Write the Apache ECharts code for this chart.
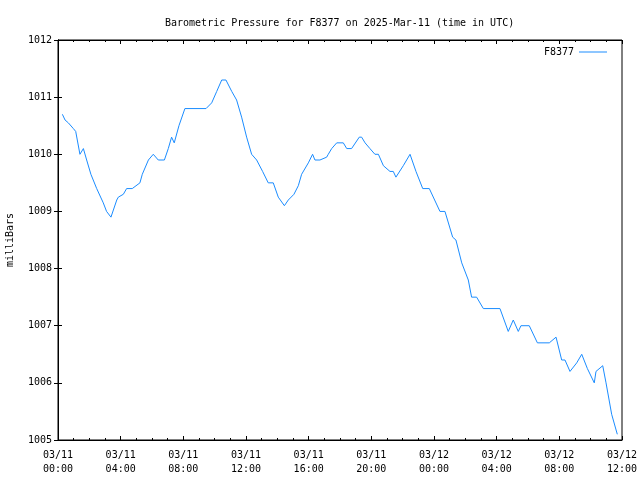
<!DOCTYPE html>
<html><head><meta charset="utf-8">
<script src="https://cdn.jsdelivr.net/npm/echarts@6/dist/echarts.min.js"></script>
<style>html,body{margin:0;padding:0;background:#fff}#c{width:640px;height:480px}</style>
</head><body><div id="c"></div>
<script>
// hours since 03/11 00:00 UTC
const hours = [0.28,0.45,0.66,0.98,1.13,1.4,1.62,1.83,2.1,2.47,2.89,3.1,3.38,3.75,3.85,4.17,4.38,4.74,5.23,5.38,5.77,6.08,6.4,6.79,7.04,7.25,7.42,7.72,8.1,9.45,9.81,10.13,10.45,10.72,11.09,11.4,11.72,12.04,12.36,12.68,13.06,13.42,13.74,14.06,14.45,14.7,15.06,15.34,15.55,15.98,16.25,16.4,16.72,17.15,17.25,17.47,17.79,18.21,18.43,18.74,19.23,19.38,19.6,19.91,20.23,20.45,20.77,21.19,21.4,21.57,22.04,22.47,22.56,22.85,23.28,23.7,24.38,24.7,25.19,25.4,25.77,26.19,26.4,26.72,27.15,28.21,28.74,29.06,29.38,29.55,30.08,30.6,31.36,31.79,32.15,32.36,32.68,33.11,33.43,33.79,34.23,34.34,34.77,34.98,35.34,35.7];
const pressure = [1010.7,1010.6,1010.55,1010.45,1010.4,1010.0,1010.1,1009.9,1009.65,1009.4,1009.15,1009.0,1008.9,1009.2,1009.25,1009.3,1009.4,1009.4,1009.5,1009.65,1009.9,1010.0,1009.9,1009.9,1010.1,1010.3,1010.2,1010.5,1010.8,1010.8,1010.9,1011.1,1011.3,1011.3,1011.1,1010.95,1010.65,1010.3,1010.0,1009.9,1009.7,1009.5,1009.5,1009.25,1009.1,1009.2,1009.3,1009.45,1009.65,1009.85,1010.0,1009.9,1009.9,1009.95,1010.0,1010.1,1010.2,1010.2,1010.1,1010.1,1010.3,1010.3,1010.2,1010.1,1010.0,1010.0,1009.8,1009.7,1009.7,1009.6,1009.8,1010.0,1010.0,1009.7,1009.4,1009.4,1009.0,1009.0,1008.55,1008.5,1008.1,1007.8,1007.5,1007.5,1007.3,1007.3,1006.9,1007.1,1006.9,1007.0,1007.0,1006.7,1006.7,1006.8,1006.4,1006.4,1006.2,1006.35,1006.5,1006.25,1006.0,1006.2,1006.3,1006.0,1005.45,1005.1];
const xTickLabels = ['03/11\n00:00','03/11\n04:00','03/11\n08:00','03/11\n12:00','03/11\n16:00','03/11\n20:00','03/12\n00:00','03/12\n04:00','03/12\n08:00','03/12\n12:00'];
const seriesName = 'F8377';

const font = 'DejaVu Sans Mono';
const chart = echarts.init(document.getElementById('c'), null, {renderer:'canvas'});
const data = hours.map((h,i)=>[h,pressure[i]]);
const axisBase = {
  axisLine:{show:true,lineStyle:{color:'#000',width:1}},
  splitLine:{show:false}
};
const majorTick = {show:true,inside:true,length:4,lineStyle:{color:'#000'}};
const minorTick = {show:true,splitNumber:4,length:2,lineStyle:{color:'#000'}};
chart.setOption({
  animation:false,
  backgroundColor:'#fff',
  title:{text:'Barometric Pressure for F8377 on 2025-Mar-11 (time in UTC)',left:160,top:13,
    textStyle:{fontFamily:font,fontSize:10,fontWeight:'normal',color:'#000'}},
  legend:{right:28,top:42,itemWidth:28,itemHeight:1,itemGap:8,align:'right',icon:'rect',
    textStyle:{fontFamily:font,fontSize:10,color:'#000'},
    data:[{name:seriesName,icon:'rect'}]},
  grid:{left:58,right:18,top:40,bottom:40,show:true,borderColor:'#000',borderWidth:1,
    containLabel:false,outerBoundsMode:'none'},
  xAxis:[
    Object.assign({type:'value',min:0,max:36,interval:4,position:'bottom',
      axisTick:majorTick,minorTick:minorTick,
      axisLabel:{fontFamily:font,fontSize:10,color:'#000',margin:8,lineHeight:14,
        formatter:v=>xTickLabels[Math.round(v/4)]||''}},axisBase),
    Object.assign({type:'value',min:0,max:36,interval:4,position:'top',
      axisTick:majorTick,minorTick:minorTick,
      axisLabel:{show:false}},axisBase)
  ],
  yAxis:[
    Object.assign({type:'value',min:1005,max:1012,interval:1,position:'left',
      name:'milliBars',nameLocation:'middle',nameGap:43,nameRotate:90,
      nameTextStyle:{fontFamily:font,fontSize:10,color:'#000'},
      axisTick:majorTick,
      axisLabel:{fontFamily:font,fontSize:10,color:'#000',margin:6,formatter:v=>String(v)}},axisBase),
    Object.assign({type:'value',min:1005,max:1012,interval:1,position:'right',
      axisTick:majorTick,
      axisLabel:{show:false}},axisBase)
  ],
  series:[{name:seriesName,type:'line',data:data,showSymbol:false,symbol:'none',
    lineStyle:{color:'#1a8cff',width:1},itemStyle:{color:'#1a8cff'},xAxisIndex:0,yAxisIndex:0}]
});
</script></body></html>
